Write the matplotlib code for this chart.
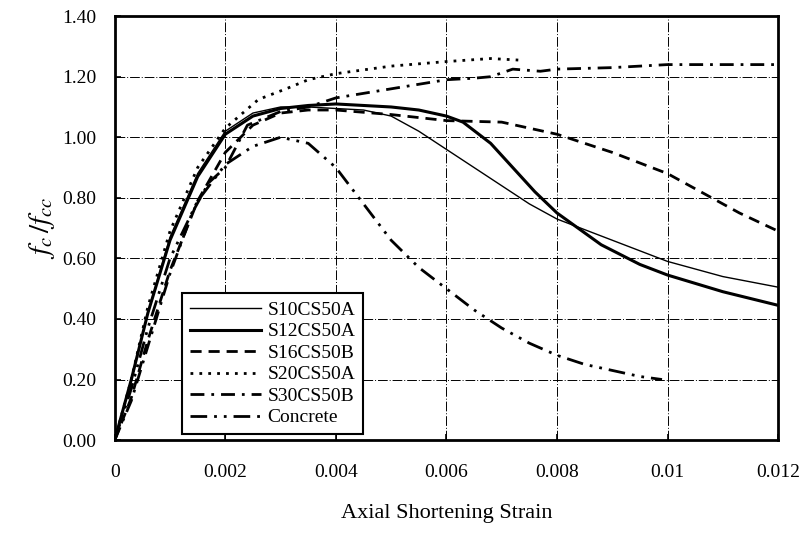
import numpy as np
import matplotlib
matplotlib.use('Agg')
import matplotlib.pyplot as plt

plt.rcParams['font.family'] = 'Liberation Serif'
plt.rcParams['mathtext.fontset'] = 'stix'

# Curves (strain, fc/fcc)
s10_x = [0, 0.0003, 0.0006, 0.001, 0.0015, 0.002, 0.0025, 0.003, 0.0035, 0.004, 0.0045, 0.005, 0.0055, 0.006, 0.0065, 0.007, 0.0075, 0.008, 0.009, 0.01, 0.011, 0.012]
s10_y = [0, 0.2, 0.42, 0.67, 0.88, 1.02, 1.08, 1.10, 1.10, 1.095, 1.09, 1.07, 1.02, 0.96, 0.90, 0.84, 0.78, 0.73, 0.66, 0.59, 0.54, 0.505]

s12_x = [0, 0.0003, 0.0006, 0.001, 0.0015, 0.002, 0.0025, 0.003, 0.0035, 0.004, 0.0045, 0.005, 0.0055, 0.006, 0.0063, 0.0068, 0.0072, 0.0076, 0.008, 0.0088, 0.0095, 0.01, 0.011, 0.012]
s12_y = [0, 0.2, 0.42, 0.66, 0.87, 1.01, 1.07, 1.095, 1.105, 1.11, 1.105, 1.10, 1.09, 1.07, 1.05, 0.98, 0.90, 0.82, 0.75, 0.645, 0.58, 0.545, 0.49, 0.445]

s16_x = [0, 0.0003, 0.0006, 0.001, 0.0015, 0.002, 0.0025, 0.003, 0.0035, 0.004, 0.005, 0.006, 0.007, 0.008, 0.009, 0.01, 0.0107, 0.0113, 0.012]
s16_y = [0, 0.14, 0.33, 0.56, 0.79, 0.95, 1.04, 1.08, 1.09, 1.09, 1.075, 1.055, 1.05, 1.01, 0.95, 0.88, 0.81, 0.75, 0.69]

s20_x = [0, 0.0003, 0.0006, 0.001, 0.0015, 0.002, 0.0026, 0.0031, 0.0035, 0.004, 0.005, 0.006, 0.0068, 0.0073]
s20_y = [0, 0.2, 0.44, 0.69, 0.90, 1.03, 1.125, 1.16, 1.19, 1.21, 1.235, 1.25, 1.26, 1.255]

s30_x = [0, 0.0003, 0.0006, 0.001, 0.0014, 0.0017, 0.002, 0.0024, 0.003, 0.0035, 0.004, 0.005, 0.006, 0.0065, 0.0068, 0.0072, 0.0077, 0.008, 0.009, 0.01, 0.011, 0.012]
s30_y = [0, 0.13, 0.31, 0.55, 0.75, 0.85, 0.90, 1.04, 1.085, 1.10, 1.13, 1.16, 1.19, 1.195, 1.20, 1.225, 1.218, 1.225, 1.23, 1.24, 1.24, 1.24]

conc_x = [0, 0.0003, 0.0006, 0.001, 0.0015, 0.002, 0.0025, 0.003, 0.0035, 0.004, 0.0045, 0.005, 0.0055, 0.006, 0.0065, 0.007, 0.0075, 0.008, 0.0085, 0.009, 0.0095, 0.0099]
conc_y = [0, 0.17, 0.37, 0.60, 0.79, 0.91, 0.97, 1.00, 0.98, 0.90, 0.78, 0.66, 0.57, 0.50, 0.43, 0.37, 0.32, 0.28, 0.25, 0.23, 0.21, 0.20]

x_ticks = [0, 0.002, 0.004, 0.006, 0.008, 0.01, 0.012]
x_tick_labels = ['0', '0.002', '0.004', '0.006', '0.008', '0.01', '0.012']
y_ticks = [0, 0.2, 0.4, 0.6, 0.8, 1.0, 1.2, 1.4]
y_tick_labels = ['0.00', '0.20', '0.40', '0.60', '0.80', '1.00', '1.20', '1.40']

fig = plt.figure(figsize=(8.08, 5.38), dpi=100)
ax = fig.add_axes([0.142, 0.182, 0.821, 0.788])

ax.plot(s10_x, s10_y, color='black', lw=1.0, label='S10CS50A')
ax.plot(s12_x, s12_y, color='black', lw=2.2, label='S12CS50A')
ax.plot(s16_x, s16_y, color='black', lw=2.0, linestyle=(0, (4, 2.5)), label='S16CS50B')
ax.plot(s20_x, s20_y, color='black', lw=2.0, linestyle=(0, (1, 2.2)), label='S20CS50A')
ax.plot(s30_x, s30_y, color='black', lw=2.0, linestyle=(0, (5, 2.5, 1, 2.5)), label='S30CS50B')
ax.plot(conc_x, conc_y, color='black', lw=2.0, linestyle=(0, (6, 2.5, 1, 2.5, 1, 2.5)), label='Concrete')

ax.set_xlim(0, 0.012)
ax.set_ylim(0, 1.4)
ax.set_xticks(x_ticks)
ax.set_xticklabels(x_tick_labels)
ax.set_yticks(y_ticks)
ax.set_yticklabels(y_tick_labels)
ax.tick_params(direction='in', length=4, width=1.2, labelsize=14)
ax.tick_params(axis='x', pad=17)
ax.tick_params(axis='y', pad=13)
ax.grid(True, color='black', lw=0.7, linestyle=(0, (10, 2, 1, 2)))
for s in ax.spines.values():
    s.set_linewidth(2)

ax.set_xlabel('Axial Shortening Strain', fontsize=16, labelpad=17)
ax.set_ylabel('$f_c\\,/f_{cc}$', fontsize=21, labelpad=4)

leg = ax.legend(loc='lower left', bbox_to_anchor=(0.101, 0.014), fontsize=14,
                handlelength=3.7, handletextpad=0.3, labelspacing=0.2, borderpad=0.4,
                fancybox=False, framealpha=1, edgecolor='black', borderaxespad=0)
leg.get_frame().set_linewidth(1.5)

fig.savefig('out.png', dpi=100)
